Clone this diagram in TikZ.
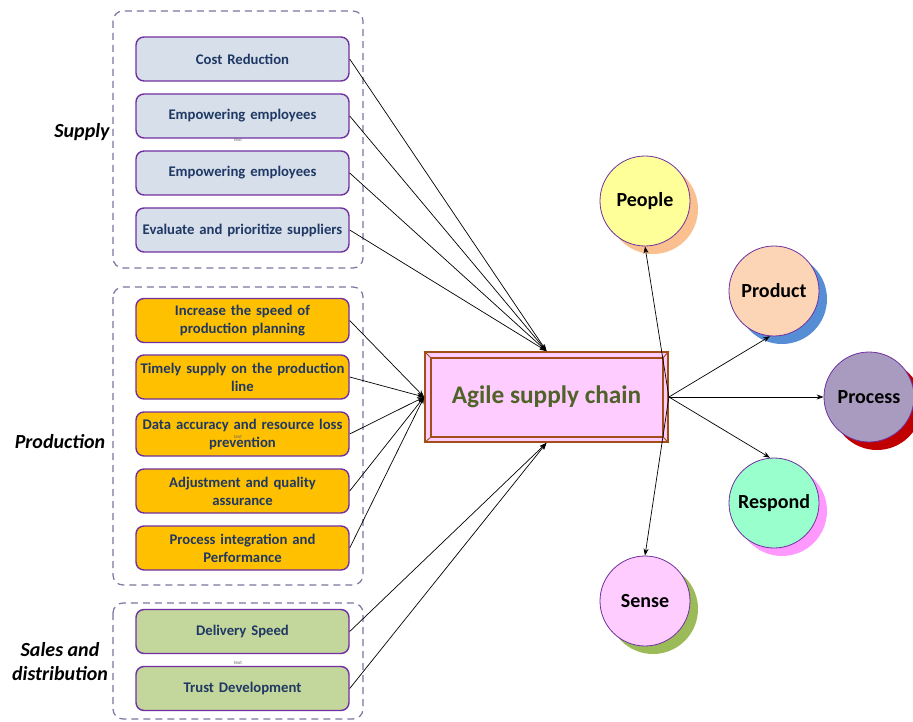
\documentclass[tikz,border=0pt]{standalone}
\usepackage{fontspec}
\setmainfont{Carlito}
\usetikzlibrary{arrows.meta,shadows}

\definecolor{framegray}{HTML}{8072A0}
\definecolor{boxpurple}{HTML}{7030A0}
\definecolor{navytext}{HTML}{1F3864}
\definecolor{supplyfill}{HTML}{D6DFEA}
\definecolor{prodfill}{HTML}{FFC000}
\definecolor{salesfill}{HTML}{C3D69B}
\definecolor{hubpink}{HTML}{FFCCFF}
\definecolor{hubbrown}{HTML}{A24E18}
\definecolor{hubtext}{HTML}{4F6228}
\definecolor{peoplefill}{HTML}{FFFF99}
\definecolor{peopleshade}{HTML}{FAC090}
\definecolor{productfill}{HTML}{FBD5B5}
\definecolor{productshade}{HTML}{558ED5}
\definecolor{processfill}{HTML}{A99BC0}
\definecolor{processshade}{HTML}{C00000}
\definecolor{respondfill}{HTML}{99FFCC}
\definecolor{respondshade}{HTML}{FF99FF}
\definecolor{sensefill}{HTML}{FFCCFF}
\definecolor{senseshade}{HTML}{9BBB59}

\begin{document}
\begin{tikzpicture}[x=1pt,y=-1pt,
  group/.style={draw=framegray, line width=1.2pt, dash pattern=on 7pt off 5pt, rounded corners=10pt},
  item/.style={draw=boxpurple, line width=1.4pt, rounded corners=8pt,
    minimum width=213pt, minimum height=44pt, text width=211pt, align=center,
    inner sep=0pt, text=navytext, font=\bfseries\fontsize{14.7}{18}\selectfont},
  supplyitem/.style={item, fill=supplyfill},
  proditem/.style={item, fill=prodfill},
  salesitem/.style={item, fill=salesfill},
  sidelabel/.style={font=\bfseries\itshape\fontsize{20}{24}\selectfont, align=center},
  tinylabel/.style={font=\fontsize{5}{6}\selectfont, text=black!60, inner sep=0pt},
  hub/.style={draw=hubbrown, line width=1.8pt, fill=hubpink, minimum width=243pt,
    minimum height=90pt, inner sep=0pt},
  hubtitle/.style={text=hubtext, font=\bfseries\fontsize{25.3}{28}\selectfont},
  bevel/.style={draw=hubbrown, line width=1.6pt},
  circ/.style={circle, draw=boxpurple, line width=0.8pt, minimum size=90pt, inner sep=0pt,
    font=\bfseries\fontsize{20}{22}\selectfont},
  shade/.style={drop shadow={shadow xshift=8pt, shadow yshift=-8pt, fill=#1, opacity=1}},
  conn/.style={draw=black, line width=0.7pt, -{Stealth[length=7pt,width=5pt]}}
]
\useasboundingbox (0,0) rectangle (913,722);

% dashed group frames
\draw[group] (113,11) rectangle (363,268);
\draw[group] (113,287) rectangle (363,585);
\draw[group] (113,603) rectangle (363,719);

% group captions
\node[sidelabel] (lsupply) at (82,132) {Supply};
\node[sidelabel] (lprod) at (60,442) {Production};
\node[sidelabel] (lsales) at (60,662) {Sales and\\distribution};

% supply items
\node[supplyitem] (s1) at (242.5,59) {Cost Reduction};
\node[supplyitem] (s2) at (242.5,116) {Empowering employees};
\node[supplyitem] (s3) at (242.5,173) {Empowering employees};
\node[supplyitem] (s4) at (242.5,230) {Evaluate and prioritize suppliers};

% production items
\node[proditem] (p1) at (242.5,320.5) {Increase the speed of\\production planning};
\node[proditem] (p2) at (242.5,377) {Timely supply on the production\\line};
\node[proditem] (p3) at (242.5,434) {Data accuracy and resource loss\\prevention};
\node[proditem] (p4) at (242.5,491) {Adjustment and quality\\assurance};
\node[proditem] (p5) at (242.5,548) {Process integration and\\Performance};

% sales items
\node[salesitem] (d1) at (242.5,631.5) {Delivery Speed};
\node[salesitem] (d2) at (242.5,688.5) {Trust Development};

% small placeholder labels
\node[tinylabel] (t1) at (238,140) {text};
\node[tinylabel] (t2) at (238,437) {text};
\node[tinylabel] (t3) at (238,663) {text};

% central bevelled box
\node[hub] (hub) at (546.5,397) {};
\coordinate (inw) at ([xshift=7pt,yshift=-7pt]hub.north west);
\coordinate (ine) at ([xshift=-6pt,yshift=-7pt]hub.north east);
\coordinate (isw) at ([xshift=7pt,yshift=6pt]hub.south west);
\coordinate (ise) at ([xshift=-6pt,yshift=6pt]hub.south east);
\draw[bevel] (inw) -- (ine) -- (ise) -- (isw) -- cycle;
\draw[hubbrown, line width=0.9pt] (hub.north west) -- (inw) (hub.north east) -- (ine)
  (hub.south west) -- (isw) (hub.south east) -- (ise);
\node[hubtitle] (title) at (hub.center) {Agile supply chain};

% outcome circles
\node[circ, fill=peoplefill, shade=peopleshade] (people) at (645,201) {People};
\node[circ, fill=productfill, shade=productshade] (product) at (774,291) {Product};
\node[circ, fill=processfill, shade=processshade] (process) at (869,397) {Process};
\node[circ, fill=respondfill, shade=respondshade] (respond) at (774,503) {Respond};
\node[circ, fill=sensefill, shade=senseshade] (sense) at (645,601) {Sense};

% connectors into the hub
\foreach \n in {s1,s2,s3,s4} \draw[conn] (\n.east) -- (hub.north);
\foreach \n in {p1,p2,p3,p4,p5} \draw[conn] (\n.east) -- (hub.west);
\foreach \n in {d1,d2} \draw[conn] (\n.east) -- (hub.south);

% connectors out of the hub
\draw[conn] (hub.east) -- (people.south);
\draw[conn] (hub.east) -- (product.-95);
\draw[conn] (hub.east) -- (process.west);
\draw[conn] (hub.east) -- (respond.95);
\draw[conn] (hub.east) -- (sense.north);
\end{tikzpicture}
\end{document}
